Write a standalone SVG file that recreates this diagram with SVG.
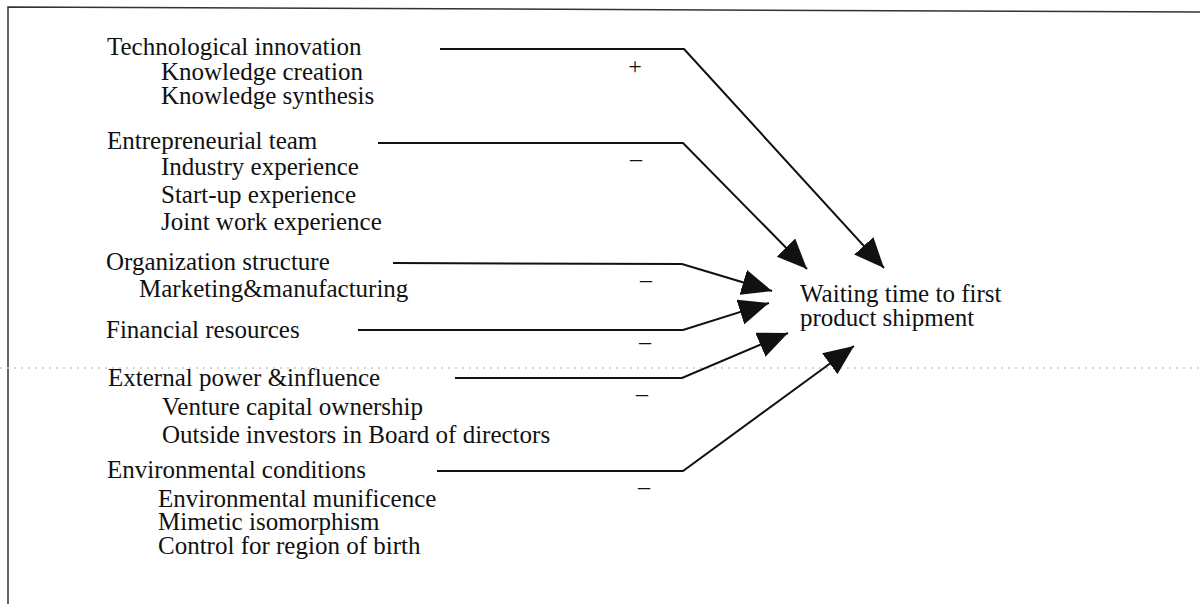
<svg xmlns="http://www.w3.org/2000/svg" width="1200" height="604" viewBox="0 0 1200 604">
  <style>
    text { font-family: "Liberation Serif", "Times New Roman", serif; font-size: 25px; fill: #111; }
    .sign { text-anchor: middle; font-size: 24px; }
    .link { fill: none; stroke: #111; stroke-width: 2; stroke-linejoin: miter; }
    .frame { fill: none; stroke: #333; stroke-width: 1.5; }
    .fold { stroke: #c8c8c8; stroke-width: 1.5; stroke-dasharray: 2 5; }
  </style>
  <defs>
    <marker id="head" markerUnits="userSpaceOnUse" markerWidth="32" markerHeight="26" refX="30" refY="13" orient="auto">
      <path d="M0,0 L30,13 L0,26 z" fill="#111"/>
    </marker>
  </defs>

  <rect width="1200" height="604" fill="#fff"/>

  <!-- page frame (top and left edges) -->
  <polyline class="frame" points="1200,12 8,7 8,604"/>
  <!-- faint fold line across the page -->
  <line class="fold" x1="0" y1="368" x2="1200" y2="368"/>

  <!-- determinant groups -->
  <g id="technological-innovation">
    <text x="107" y="55">Technological innovation</text>
    <text x="161" y="80">Knowledge creation</text>
    <text x="161" y="104">Knowledge synthesis</text>
  </g>
  <g id="entrepreneurial-team">
    <text x="107" y="149">Entrepreneurial team</text>
    <text x="161" y="175">Industry experience</text>
    <text x="161" y="203">Start-up experience</text>
    <text x="161" y="230">Joint work experience</text>
  </g>
  <g id="organization-structure">
    <text x="106" y="270">Organization structure</text>
    <text x="139" y="297">Marketing&amp;manufacturing</text>
  </g>
  <g id="financial-resources">
    <text x="106" y="338">Financial resources</text>
  </g>
  <g id="external-power">
    <text x="108" y="386">External power &amp;influence</text>
    <text x="162" y="415">Venture capital ownership</text>
    <text x="162" y="443">Outside investors in Board of directors</text>
  </g>
  <g id="environmental-conditions">
    <text x="107" y="478">Environmental conditions</text>
    <text x="158" y="507">Environmental munificence</text>
    <text x="158" y="530">Mimetic isomorphism</text>
    <text x="158" y="554">Control for region of birth</text>
  </g>
  <g id="waiting-time">
    <text x="800" y="302">Waiting time to first</text>
    <text x="800" y="326">product shipment</text>
  </g>

  <!-- connectors into the outcome -->
  <g id="connectors">
    <polyline class="link" marker-end="url(#head)" points="440,49 684,49 884,268"/>
    <polyline class="link" marker-end="url(#head)" points="378,143 683,143 807,269"/>
    <polyline class="link" marker-end="url(#head)" points="393,263 682,264 772,291"/>
    <polyline class="link" marker-end="url(#head)" points="358,330 683,330 769,303"/>
    <polyline class="link" marker-end="url(#head)" points="455,378 682,378 788,333"/>
    <polyline class="link" marker-end="url(#head)" points="437,471 683,471 854,346"/>
    <text class="sign" x="635" y="74">+</text>
    <text class="sign" x="636" y="166">–</text>
    <text class="sign" x="646" y="287">–</text>
    <text class="sign" x="645" y="349">–</text>
    <text class="sign" x="642" y="401">–</text>
    <text class="sign" x="644" y="494">–</text>
  </g>
</svg>
